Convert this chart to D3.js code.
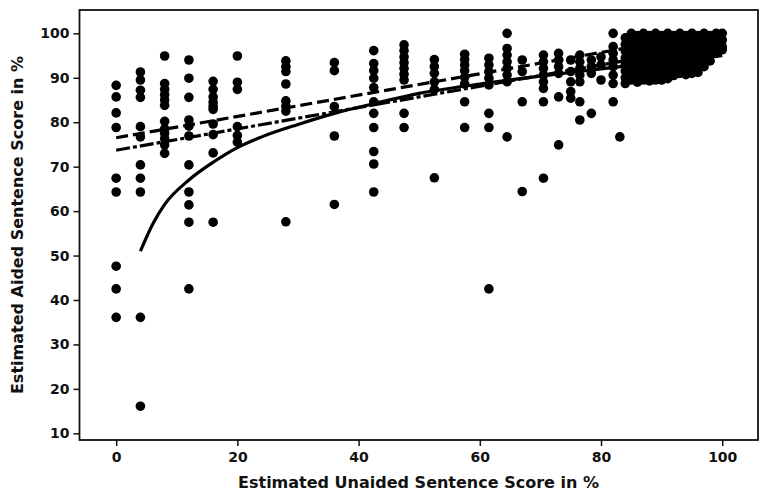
<!DOCTYPE html>
<html>
<head>
<meta charset="utf-8">
<script src="https://cdn.jsdelivr.net/npm/d3@7"></script>
<style>
	body { margin: 0; background: #fff; }
	text { font-family: "DejaVu Sans", Verdana, sans-serif; font-weight: bold; fill: #111; }
</style>
</head>
<body>
<svg id="viz"></svg>
<script>

	// the data: unaided score columns and the aided scores found in each
	var unaided = [0, 4, 8, 12, 16, 20, 28, 36, 42.5, 47.5, 52.5, 57.5, 61.5, 64.5, 67, 70.5, 73, 75, 76.5, 78.4, 80, 82, 83.1,
		84, 85, 86, 87, 88, 89, 90, 91, 92, 93, 94, 95, 96, 97, 98, 99, 100];
	var aided = [
		[88.3, 85.7, 82.1, 78.8, 67.4, 64.3, 47.6, 42.5, 36.1],
		[91.3, 89.5, 87.2, 85.6, 79, 76.7, 70.4, 67.4, 64.3, 36.1, 16.1],
		[94.9, 88.7, 87.4, 86.2, 85, 83.8, 80.2, 78.5, 77.5, 76.3, 74.9, 73],
		[94, 89.9, 85.6, 80.5, 79.1, 76.9, 70.4, 64.3, 61.4, 57.5, 42.5],
		[89.2, 87.4, 85.7, 84.5, 83.6, 82.9, 79.6, 77.2, 73.1, 57.5],
		[94.9, 89, 87.4, 79, 77, 75.5],
		[93.8, 92.5, 91.4, 88.6, 84.8, 83.6, 82.5, 57.6],
		[93.4, 91.6, 83.5, 76.9, 61.5],
		[96.1, 93.2, 91.6, 89.9, 87.8, 84.6, 82, 78.8, 73.4, 70.6, 64.3],
		[97.4, 96.1, 94.7, 93.4, 92.1, 90.8, 89.5, 82, 78.8],
		[94.1, 92.5, 91, 89.1, 87.4, 67.5],
		[95.3, 94.1, 92.9, 91.6, 90.1, 88.6, 84.6, 78.8],
		[94.4, 92.9, 91.4, 89.9, 88.4, 82, 78.8, 42.5],
		[100, 96.6, 95.1, 93.6, 92.1, 90.6, 89.1, 76.7],
		[94, 91.4, 84.6, 64.4],
		[95.1, 93.6, 92.1, 90.6, 89.1, 87.6, 84.6, 67.4],
		[95.5, 94, 92.5, 91, 85.7, 74.9],
		[94, 91.4, 89.1, 86.9, 85.4],
		[95.1, 93.6, 92.1, 90.6, 89.1, 84.6, 80.5],
		[94, 92.5, 91, 82],
		[94.7, 92.9, 89.5],
		[100, 97, 95.5, 94, 92.5, 90.6, 88.7, 84.6],
		[76.7],
		[99, 97.5, 96, 94.5, 93, 91.5, 90, 88.7],
		[100, 98.5, 97, 95.5, 94, 92.5, 91, 89.5],
		[99.5, 98, 96.5, 95, 93.5, 92, 90.5, 89],
		[100, 98.5, 97, 95.5, 94, 92.5, 91, 89.5],
		[99.5, 98, 96.5, 95, 93.5, 92, 90.5, 89.3],
		[100, 98.5, 97, 95.5, 94, 92.5, 91, 89.5],
		[99.5, 98, 96.5, 95, 93.5, 92, 90.5, 89.5],
		[100, 98.5, 97, 95.5, 94, 92.5, 91, 89.8],
		[99.5, 98, 96.5, 95, 93.5, 92, 90.5],
		[100, 98.5, 97, 95.5, 94, 92.5, 91],
		[99.5, 98, 96.5, 95, 93.5, 92, 90.7],
		[100, 98.5, 97, 95.5, 94, 92.5, 91],
		[99.5, 98, 96.5, 95, 93.5, 92, 91.2],
		[100, 98.5, 97, 95.5, 94, 92.5],
		[99.5, 98, 96.5, 95, 93.8],
		[100, 98.5, 97, 95.5],
		[100, 98.5, 97, 96.3]
	];

	// fitted lines
	var logFitX = [4, 6, 8, 12, 16, 20, 24, 30, 36, 42, 50, 60, 72, 80, 90, 100];
	var logFitY = [51, 57, 61.5, 67, 71, 74.3, 76.7, 79.5, 82, 84, 86.5, 88.6, 90.7, 92, 93.6, 95];
	var upperFitX = [0, 100];
	var upperFitY = [76.5, 100.5];
	var lowerFitX = [0, 100];
	var lowerFitY = [73.7, 97.7];

	// tick labels
	var xTicks = [0, 20, 40, 60, 80, 100];
	var yTicks = [10, 20, 30, 40, 50, 60, 70, 80, 90, 100];



	// set up the svg
	var w = 759;
	var h = 495;
	var viz = d3.select("#viz").attr("width", w).attr("height", h);

	var x = d3.scaleLinear().domain([-6.05, 105.9]).range([79.5, 758]);
	var y = d3.scaleLinear().domain([8.5, 105.25]).range([440, 10]);



	// flatten the columns into points
	var points = [];
	unaided.forEach(function(u, i) {
		aided[i].forEach(function(a) {
			points.push({x: u, y: a});
		});
	});

	viz.selectAll("circle.pt")
		.data(points)
		.enter()
		.append("circle")
		.attr("class", "pt")
		.attr("cx", function(d) { return x(d.x); })
		.attr("cy", function(d) { return y(d.y); })
		.attr("r", 4.8)
		.attr("fill", "#000");



	// fit lines
	var line = d3.line()
		.x(function(d) { return x(d[0]); })
		.y(function(d) { return y(d[1]); });

	viz.append("path")
		.datum(logFitX.map(function(v, i) { return [v, logFitY[i]]; }))
		.attr("d", line.curve(d3.curveMonotoneX))
		.attr("fill", "none")
		.attr("stroke", "#000")
		.attr("stroke-width", 3.2);

	viz.append("path")
		.datum(upperFitX.map(function(v, i) { return [v, upperFitY[i]]; }))
		.attr("d", line.curve(d3.curveLinear))
		.attr("fill", "none")
		.attr("stroke", "#000")
		.attr("stroke-width", 3.2)
		.attr("stroke-dasharray", "12,5");

	viz.append("path")
		.datum(lowerFitX.map(function(v, i) { return [v, lowerFitY[i]]; }))
		.attr("d", line.curve(d3.curveLinear))
		.attr("fill", "none")
		.attr("stroke", "#000")
		.attr("stroke-width", 3.2)
		.attr("stroke-dasharray", "14,3,4,3");



	// axes
	var xAxis = viz.append("g")
		.attr("transform", "translate(0,440)")
		.call(d3.axisBottom(x).tickValues(xTicks).tickSize(6).tickPadding(6));
	var yAxis = viz.append("g")
		.attr("transform", "translate(79.5,0)")
		.call(d3.axisLeft(y).tickValues(yTicks).tickSize(6).tickPadding(4));

	[xAxis, yAxis].forEach(function(g) {
		g.select(".domain").remove();
		g.selectAll("line").attr("stroke", "#111").attr("stroke-width", 1.5);
		g.selectAll("text")
			.attr("font-family", "DejaVu Sans, sans-serif")
			.attr("font-weight", "bold")
			.attr("font-size", 14)
			.attr("fill", "#111");
	});



	// frame round the plot
	viz.append("rect")
		.attr("x", 79.5)
		.attr("y", 10)
		.attr("width", 758 - 79.5)
		.attr("height", 430)
		.attr("fill", "none")
		.attr("stroke", "#111")
		.attr("stroke-width", 1.8);



	// axis titles
	viz.append("text")
		.text("Estimated Unaided Sentence Score in %")
		.attr("x", 418.5)
		.attr("y", 488)
		.attr("text-anchor", "middle")
		.attr("font-size", 16);

	viz.append("text")
		.text("Estimated Aided Sentence Score in %")
		.attr("transform", "translate(23,225) rotate(-90)")
		.attr("text-anchor", "middle")
		.attr("font-size", 16);

</script>
</body>
</html>
